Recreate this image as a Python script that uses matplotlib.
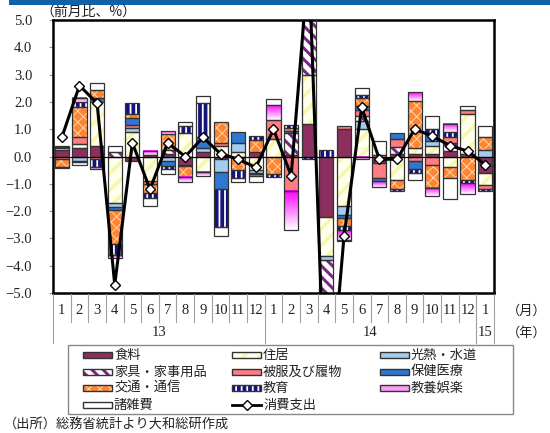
import numpy as np
import matplotlib
matplotlib.use("Agg")
import matplotlib.pyplot as plt
import matplotlib.transforms as mtransforms
from matplotlib.patches import Rectangle
from matplotlib.lines import Line2D
from matplotlib.colors import LinearSegmentedColormap

W_PX, H_PX = 550, 433

meses = ["1", "2", "3", "4", "5", "6", "7", "8", "9", "10", "11", "12",
         "1", "2", "3", "4", "5", "6", "7", "8", "9", "10", "11", "12", "1"]
anos = [("13", 0, 12), ("14", 12, 24), ("15", 24, 25)]

# 寄与度（%pt）
food = [0.25, 0.3, 0.4, 0.0, -0.15, 0.05, 0.1, -0.3, 0.15, -0.1, -0.05, 0.15,
        0.0, 0.05, 1.2, -2.2, 1.0, 0.0, -0.15, 0.1, 0.1, 0.1, 0.2, 0.1, -0.6]
housing = [0.05, 0.15, 1.6, -1.7, 0.9, -0.9, 0.0, 0.85, -0.55, 0.4, 0.15, -0.5,
           0.65, 0.0, 1.8, -1.45, -1.8, 1.0, 0.0, -0.85, 0.2, 0.3, -0.4, 1.45, -0.45]
utilities = [0.03, -0.15, 0.0, -0.15, 0.15, 0.0, -0.15, 0.0, 0.15, -0.45, 0.35, -0.1,
             0.0, 0.0, 0.0, -0.15, -0.35, 0.3, 0.0, 0.0, 0.0, 0.15, 0.0, 0.0, 0.25]
furniture = [0.02, 0.0, 0.0, 0.15, 0.0, 0.0, 0.15, 0.0, 0.0, 0.0, 0.0, -0.05,
             0.0, 0.8, 2.5, -2.0, 0.0, 0.2, -0.1, 0.25, 0.0, 0.0, 0.3, 0.0, 0.0]
clothing = [-0.1, 0.25, -0.1, 0.0, 0.1, -0.12, 0.0, -0.05, 0.0, 0.1, 0.0, -0.05,
            0.7, -1.25, 0.0, 0.0, 0.1, 0.2, -0.55, 0.3, -0.15, -0.3, 0.2, 0.15, -0.15]
health = [0.02, -0.05, 0.15, -0.1, 0.25, 0.0, -0.2, 0.0, 0.4, -0.65, 0.4, 0.0,
          0.0, 0.1, 0.0, 0.0, -0.1, 0.15, -0.1, 0.2, -0.3, 0.25, 0.0, 0.0, 0.0]
transport = [-0.3, 1.1, 0.3, -1.25, 0.15, -0.3, 0.58, -0.4, 0.0, 0.75, -0.45, 0.45,
             -0.65, 0.1, 0.0, 0.0, -0.3, 0.3, 0.05, -0.35, 1.75, -0.85, -0.4, -0.85, 0.45]
education = [0.0, 0.2, -0.3, -0.4, 0.4, -0.2, -0.1, 0.25, 1.25, -1.4, -0.3, 0.15,
             -0.1, 0.1, -0.08, 0.25, -0.15, 0.1, 0.0, -0.05, -0.15, 0.2, 0.2, -0.12, -0.05]
recreation = [-0.03, 0.15, -0.05, -0.1, 0.0, 0.15, 0.1, -0.2, -0.15, 0.0, 0.0, 0.0,
              0.55, -1.45, 0.0, 0.0, -0.35, -0.1, -0.2, 0.0, 0.3, -0.3, 0.3, -0.4, 0.0]
misc = [0.0, -0.1, 0.25, 0.25, 0.0, -0.3, -0.2, 0.15, 0.25, -0.3, -0.12, -0.25,
        0.2, 0.0, 0.0, 0.0, -0.05, 0.25, 0.5, 0.0, -0.25, 0.5, -0.75, 0.15, 0.4]

# 消費支出（前月比、%）
spend = [0.7, 2.6, 1.95, -4.7, 0.5, -1.2, 0.5, 0.0, 0.7, 0.1, -0.1, -0.4,
         1.0, -0.7, 7.2, -10.5, -2.9, 1.8, -0.1, -0.1, 1.0, 0.75, 0.4, 0.2, -0.3]

series = [
    ("食料", food),
    ("住居", housing),
    ("光熱・水道", utilities),
    ("家具・家事用品", furniture),
    ("被服及び履物", clothing),
    ("保健医療", health),
    ("交通・通信", transport),
    ("教育", education),
    ("教養娯楽", recreation),
    ("諸雑費", misc),
]

estilos = {
    "食料": dict(face="#8C2E5E"),
    "住居": dict(face="#FFFFEC", hatch="//", hcolor="#F6F6B0", hlw=2.5),
    "光熱・水道": dict(face="#A4CCF0"),
    "家具・家事用品": dict(face="white", hatch="\\\\\\", hcolor="#7A2A80", hlw=2.2),
    "被服及び履物": dict(face="#FF7C80"),
    "保健医療": dict(face="#2E78D0"),
    "交通・通信": dict(face="#FF8533", hatch="xxx", hcolor="#FFD8B0", hlw=0.7),
    "教育": dict(face="#14147A", hatch="|||", hcolor="white", hlw=1.3),
    "教養娯楽": dict(face="#FF9CF5", gradient=True),
    "諸雑費": dict(face="white"),
}

CJK = ["Noto Sans CJK JP", "DejaVu Sans"]
SERIF = "Liberation Serif"
EDGE = "#333333"
BAR_W = 0.8


def hatch_lw(patches, w):
    for p in patches:
        if hasattr(p, "set_hatch_linewidth"):
            p.set_hatch_linewidth(w)


fig = plt.figure(figsize=(W_PX / 100, H_PX / 100), dpi=100)
ax = fig.add_axes([53 / W_PX, 1 - 293 / H_PX, 441 / W_PX, 273 / H_PX])

grad = np.linspace(0, 1, 64).reshape(-1, 1)
pink_cmap = LinearSegmentedColormap.from_list("pink", ["#FF00FF", "#FFFFFF"])

x = np.arange(len(meses))
pos_base = np.zeros(len(x))
neg_base = np.zeros(len(x))
for nome, vals in series:
    vals = np.array(vals, dtype=float)
    st = estilos[nome]
    bottom = np.where(vals >= 0, pos_base, neg_base)
    m = vals != 0
    if st.get("gradient"):
        for xi, v, b in zip(x[m], vals[m], bottom[m]):
            lo, hi = sorted([b, b + v])
            ax.imshow(grad, cmap=pink_cmap, extent=(xi - BAR_W / 2, xi + BAR_W / 2, lo, hi),
                      aspect="auto", origin="upper", zorder=2, interpolation="bilinear")
    else:
        with plt.rc_context({"hatch.linewidth": st.get("hlw", 1.0)}):
            bars = ax.bar(x[m], vals[m], BAR_W, bottom=bottom[m], color=st["face"],
                          edgecolor=st.get("hcolor", st["face"]), hatch=st.get("hatch"),
                          linewidth=0, zorder=2)
        hatch_lw(bars, st.get("hlw", 1.0))
    ax.bar(x[m], vals[m], BAR_W, bottom=bottom[m], fill=False,
           edgecolor=EDGE, linewidth=0.9, zorder=3)
    pos_base += np.clip(vals, 0, None)
    neg_base += np.clip(vals, None, 0)

ax.axhline(0, color="black", linewidth=0.8, zorder=4)
ax.plot(x, spend, color="black", linewidth=2.2, marker="D", markersize=5.5,
        markerfacecolor="white", markeredgecolor="black", markeredgewidth=1, zorder=5)

ax.set_xlim(-0.5, len(x) - 0.5)
ax.set_ylim(-5, 5)
ax.set_xticks([])
yt = np.arange(-5, 6)
ax.set_yticks(yt)
ax.set_yticklabels([f"{v:.1f}".replace("-", "−") for v in yt], fontfamily=SERIF,
                   fontsize=10.5, color="#222222")
ax.tick_params(axis="y", direction="out", length=3, width=0.8, color="#999999", pad=12)
for s in ax.spines.values():
    s.set_linewidth(1.8)
    s.set_color("black")


def fx(px):
    return px / W_PX


def fy(py):
    return 1 - py / H_PX


# 月・年の区切り
tr = mtransforms.blended_transform_factory(ax.transData, fig.transFigure)
for k in range(len(x) + 1):
    fundo = 343 if k in (0, 12, 24, 25) else 322
    fig.add_artist(Line2D([k - 0.5, k - 0.5], [fy(294), fy(fundo)], transform=tr,
                          color="#A0A0A0", linewidth=0.8))
for i, m_ in enumerate(meses):
    fig.text(i, fy(311), m_, transform=tr, ha="center", va="center",
             fontfamily=SERIF, fontsize=10.5, color="#222222")
for rot, a, b in anos:
    fig.text((a + b - 1) / 2, fy(333), rot, transform=tr, ha="center", va="center",
             fontfamily=SERIF, fontsize=10.5, color="#222222")
fig.text(fx(527), fy(311), "（月）", ha="center", va="center", family=CJK, fontsize=9.5, color="#222222")
fig.text(fx(527), fy(333), "（年）", ha="center", va="center", family=CJK, fontsize=9.5, color="#222222")

fig.text(fx(40), fy(12), "（前月比、%）", ha="left", va="center", family=CJK, fontsize=10, color="#222222")

# 上端の帯
fig.add_artist(Rectangle((fx(9), fy(5)), 1, 5 / H_PX, transform=fig.transFigure,
                         facecolor="#1060AA", edgecolor="none"))

# 凡例
fig.add_artist(Rectangle((fx(68), fy(414)), 445 / W_PX, 69 / H_PX, transform=fig.transFigure,
                         fill=False, edgecolor="#888888", linewidth=1))
linhas_y = [355, 372, 388, 405]
cols_x = [83, 232, 380]
itens = [n for n, _ in series] + ["消費支出"]
for i, nome in enumerate(itens):
    px = cols_x[i % 3]
    py = linhas_y[i // 3]
    if nome == "消費支出":
        fig.add_artist(Line2D([fx(px), fx(px + 29)], [fy(py), fy(py)], transform=fig.transFigure,
                              color="black", linewidth=2))
        fig.add_artist(Line2D([fx(px + 14.5)], [fy(py)], transform=fig.transFigure, marker="D",
                              markersize=5, markerfacecolor="white", markeredgecolor="black",
                              markeredgewidth=1))
    else:
        st = estilos[nome]
        with plt.rc_context({"hatch.linewidth": st.get("hlw", 1.0)}):
            r = Rectangle((fx(px), fy(py + 3)), 29 / W_PX, 6 / H_PX,
                          transform=fig.transFigure, facecolor=st["face"],
                          edgecolor=st.get("hcolor", st["face"]), hatch=st.get("hatch"),
                          linewidth=0)
        hatch_lw([r], st.get("hlw", 1.0))
        fig.add_artist(r)
        fig.add_artist(Rectangle((fx(px), fy(py + 3)), 29 / W_PX, 6 / H_PX,
                                 transform=fig.transFigure, fill=False, edgecolor=EDGE, linewidth=1))
    fig.text(fx(px + 31), fy(py), nome, ha="left", va="center", family=CJK, fontsize=9.5, color="#222222")

fig.text(fx(4), fy(424), "（出所）総務省統計より大和総研作成", ha="left", va="center",
         family=CJK, fontsize=9.5, color="#222222")

plt.savefig("out.png", dpi=100)
plt.close(fig)
